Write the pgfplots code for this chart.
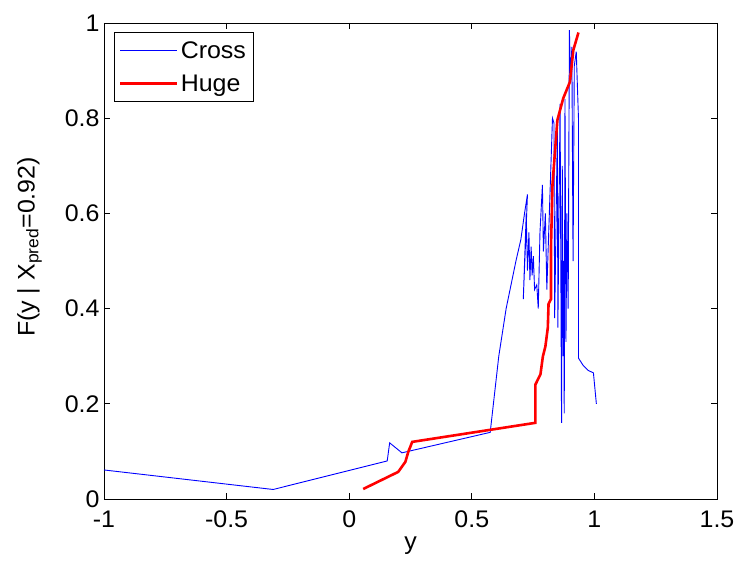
\documentclass[border=0pt]{standalone}
\usepackage{fontspec}
\setmainfont{Liberation Sans}[FakeStretch=1.04]
\usepackage{pgfplots}
\pgfplotsset{compat=1.18}
\begin{document}
\begin{tikzpicture}
\begin{axis}[name=ax,
  scale only axis, width=613pt, height=476pt,
  xmin=-1, xmax=1.5, ymin=0, ymax=1,
  xtick={-1,-0.5,0,0.5,1,1.5}, ytick={0,0.2,0.4,0.6,0.8,1},
  xticklabels={-1,-0.5,0,0.5,1,1.5},
  yticklabels={0,0.2,0.4,0.6,0.8,1},
  tick align=inside, tick pos=both,
  major tick length=6pt,
  tick style={black, line width=0.7pt},
  axis line style={black, line width=0.7pt},
  ticklabel style={font=\fontsize{24}{27}\selectfont},
  xticklabel style={yshift=-8pt},
  yticklabel style={xshift=-1pt},
  xlabel={y}, ylabel={F(y | X\textsubscript{pred}=0.92)},
  label style={font=\fontsize{24}{27}\selectfont},
  xlabel style={yshift=-2pt},
  ylabel style={yshift=16pt, xshift=14pt},
  legend style={at={(0.016,0.981)}, anchor=north west, draw=black, line width=0.7pt,
    font=\fontsize{24}{27}\selectfont, inner xsep=5pt, inner ysep=7pt, row sep=11pt},
  legend cell align=left,
  legend image code/.code={\draw[#1] (0pt,0pt) -- (57pt,0pt);},
]
\addplot[blue, line width=0.9pt] coordinates {
(-1.000,0.061) (-0.310,0.020) (0.155,0.080) (0.165,0.118) (0.215,0.097)
(0.575,0.140) (0.610,0.300) (0.640,0.400) (0.680,0.500) (0.700,0.545)
(0.715,0.600) (0.727,0.640) (0.710,0.420) (0.722,0.600) (0.727,0.480)
(0.733,0.560) (0.737,0.460) (0.742,0.530) (0.746,0.470) (0.751,0.510)
(0.756,0.440) (0.765,0.450) (0.771,0.400) (0.778,0.560) (0.788,0.660)
(0.792,0.520) (0.800,0.600) (0.806,0.440) (0.829,0.800) (0.835,0.790)
(0.838,0.380) (0.849,0.780) (0.851,0.360) (0.860,0.830) (0.866,0.160)
(0.869,0.700) (0.872,0.300) (0.874,0.500) (0.877,0.180) (0.880,0.840)
(0.884,0.330) (0.888,0.600) (0.893,0.400) (0.898,0.985) (0.903,0.880)
(0.908,0.950) (0.913,0.500) (0.918,0.910) (0.926,0.940) (0.935,0.800)
(0.935,0.296) (0.955,0.280) (0.975,0.270) (0.996,0.265) (1.008,0.200)
};
\addlegendentry{Cross}
\addplot[red, line width=2.6pt] coordinates {
(0.057,0.021) (0.200,0.057) (0.229,0.078) (0.241,0.099) (0.257,0.120)
(0.759,0.160) (0.759,0.240) (0.780,0.262) (0.790,0.300) (0.800,0.320)
(0.810,0.360) (0.813,0.410) (0.823,0.420) (0.823,0.530) (0.829,0.660)
(0.849,0.796) (0.873,0.842) (0.900,0.876) (0.914,0.943) (0.935,0.980)
};
\addlegendentry{Huge}
\end{axis}
\path (ax.south west) ++(-104pt,-66pt) rectangle ++(738pt,565pt);
\end{tikzpicture}
\end{document}
